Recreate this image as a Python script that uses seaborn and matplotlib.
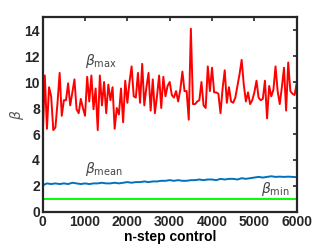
import numpy as np
import pandas as pd
import matplotlib
matplotlib.use('Agg')
import matplotlib.pyplot as plt
import seaborn as sns

# dados
steps_max = np.arange(0, 6001, 50)
beta_max = [5.8, 10.5, 6.4, 9.6, 8.9, 6.3, 6.5, 8.4, 10.7, 7.4,
            8.6, 8.6, 9.9, 8.2, 9.2, 10.2, 7.9, 7.6, 8.7, 8.0,
            7.4, 10.4, 8.5, 10.5, 7.9, 9.5, 6.3, 10.5, 8.2, 10.0,
            7.6, 9.8, 8.6, 9.6, 6.4, 8.0, 7.5, 9.5, 6.9, 10.1,
            8.4, 10.0, 11.2, 8.9, 8.8, 10.7, 8.4, 11.4, 8.2, 9.6,
            10.7, 7.8, 10.2, 7.6, 8.9, 10.5, 8.0, 10.4, 8.9, 9.7,
            10.0, 9.0, 8.8, 9.3, 8.5, 9.4, 10.8, 9.3, 9.3, 7.1,
            14.1, 8.3, 8.3, 8.5, 8.6, 10.0, 8.2, 8.0, 11.2, 9.3,
            11.1, 9.2, 9.2, 9.1, 7.6, 9.5, 10.9, 8.4, 9.6, 8.5,
            8.4, 8.8, 9.7, 10.6, 11.7, 9.8, 8.5, 9.2, 8.3, 8.6,
            9.2, 10.1, 8.8, 8.6, 8.7, 10.1, 7.2, 9.7, 8.9, 9.4,
            11.2, 9.3, 8.3, 9.6, 11.1, 7.8, 11.5, 9.3, 9.1, 9.0,
            9.9]

steps_mean = np.arange(0, 6001, 100)
beta_mean = [2.05, 2.2, 2.15, 2.2, 2.15, 2.2, 2.15, 2.25, 2.2, 2.15,
             2.2, 2.15, 2.2, 2.2, 2.25, 2.2, 2.2, 2.25, 2.2, 2.25,
             2.3, 2.25, 2.3, 2.3, 2.35, 2.3, 2.35, 2.35, 2.4, 2.4,
             2.45, 2.4, 2.45, 2.4, 2.4, 2.45, 2.45, 2.5, 2.45, 2.5,
             2.5, 2.45, 2.55, 2.5, 2.55, 2.55, 2.5, 2.6, 2.55, 2.6,
             2.65, 2.7, 2.65, 2.7, 2.75, 2.7, 2.72, 2.7, 2.72, 2.7,
             2.68]

steps_min = [0, 6000]
beta_min = [1.0, 1.0]

xticks = [0, 1000, 2000, 3000, 4000, 5000, 6000]
yticks = [0, 2, 4, 6, 8, 10, 12, 14]

sns.set_style('white')
plt.rcParams['font.family'] = ['Liberation Sans', 'DejaVu Sans']
plt.rcParams['mathtext.fontset'] = 'dejavusans'

fig = plt.figure(figsize=(3.27, 2.45), dpi=100)
ax = fig.add_axes([0.1306, 0.1347, 0.7767, 0.7959])

sns.lineplot(x=steps_max, y=beta_max, color=(1, 0, 0), linewidth=1.4, ax=ax)
sns.lineplot(x=steps_mean, y=beta_mean, color=(0, 0.447, 0.741), linewidth=1.4, ax=ax)
sns.lineplot(x=steps_min, y=beta_min, color=(0, 1, 0), linewidth=1.4, ax=ax)

ax.set_xlim(0, 6000)
ax.set_ylim(0, 15)
ax.set_xticks(xticks)
ax.set_yticks(yticks)

dark = '#262626'
for s in ax.spines.values():
    s.set_linewidth(1.6)
    s.set_color(dark)
ax.tick_params(direction='in', length=3, width=1.2, colors=dark,
               top=True, right=True, labelsize=10, pad=2)
for lab in ax.get_xticklabels() + ax.get_yticklabels():
    lab.set_fontweight('bold')

ax.set_xlabel('n-step control', fontsize=10, fontweight='bold', color='black', labelpad=1)
ax.set_ylabel(r'$\beta$', fontsize=10, color='#555555', labelpad=-1)

ax.text(1000, 11.3, r'$\beta_{\mathrm{max}}$', fontsize=10, color='#444444')
ax.text(1000, 3.0, r'$\beta_{\mathrm{mean}}$', fontsize=10, color='#444444')
ax.text(5150, 1.45, r'$\beta_{\mathrm{min}}$', fontsize=10, color='#444444')

fig.savefig('out.png', dpi=100)
